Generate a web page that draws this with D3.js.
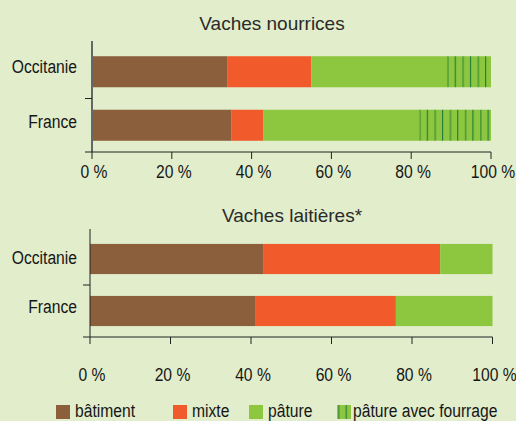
<!DOCTYPE html>
<html>
<head>
<meta charset="utf-8">
<script src="https://cdn.jsdelivr.net/npm/d3@7"></script>
<style>
  body { margin: 0; background: #e1edcb; }
  svg { display: block; font-family: "Liberation Sans", Arial, sans-serif; }
</style>
</head>
<body>
<div class="canva"></div>
<script>
// data
const regions = ["Occitanie", "France"];
const types = ["bâtiment", "mixte", "pâture", "pâture avec fourrage"];
const nourrices = [[34, 21, 34, 11], [35, 8, 39, 18]];
const laitieres = [[43, 44, 13, 0], [41, 35, 24, 0]];
const ticks = [0, 20, 40, 60, 80, 100];
const titles = ["Vaches nourrices", "Vaches laitières*"];

const colors = ["#8b5e3c", "#f15a2b", "#8dc63f", "#8dc63f"];
const squish = 0.87;

const svg = d3.select(".canva").append("svg")
    .attr("width", 516)
    .attr("height", 421);

const defs = svg.append("defs");

function squishText(g, x, y, txt, anchor, size) {
    return g.append("text")
        .attr("transform", "translate(" + x + "," + y + ") scale(" + squish + ",1)")
        .attr("text-anchor", anchor)
        .attr("font-size", size)
        .attr("fill", "#161616")
        .text(txt);
}

let patId = 0;
function hatch(x0) {
    const id = "hatch" + (patId++);
    const p = defs.append("pattern")
        .attr("id", id)
        .attr("patternUnits", "userSpaceOnUse")
        .attr("x", x0)
        .attr("width", 15.2)
        .attr("height", 10);
    p.append("rect").attr("width", 15.2).attr("height", 10).attr("fill", "#8dc63f");
    p.append("rect").attr("x", 0).attr("width", 1.6).attr("height", 10).attr("fill", "#4f9a3a");
    p.append("rect").attr("x", 7.6).attr("width", 1.1).attr("height", 10).attr("fill", "#1b7a3e");
    return "url(#" + id + ")";
}

function drawChart(cfg) {
    const x = d3.scaleLinear().domain([0, 100]).range([cfg.x0, cfg.x1]);
    const y = d3.scaleBand().domain(regions).range([cfg.yTop, cfg.yBot]);
    const g = svg.append("g");

    // title
    g.append("text")
        .attr("x", cfg.titleX)
        .attr("y", cfg.titleY)
        .attr("text-anchor", "middle")
        .attr("font-size", 19)
        .attr("fill", "#2a2a2a")
        .text(cfg.title);

    // bars
    const bh = y.bandwidth() * 0.58;
    cfg.data.forEach((row, i) => {
        let acc = 0;
        row.forEach((v, j) => {
            if (v <= 0) return;
            const xs = x(acc), xe = x(acc + v);
            g.append("rect")
                .attr("x", xs)
                .attr("y", y(regions[i]) + (y.bandwidth() - bh) / 2)
                .attr("width", xe - xs)
                .attr("height", bh)
                .attr("fill", j === 3 ? hatch(xs) : colors[j]);
            acc += v;
        });
    });

    // y axis
    g.append("line")
        .attr("x1", x(0)).attr("x2", x(0))
        .attr("y1", cfg.yTop - 4).attr("y2", cfg.yBot)
        .attr("stroke", cfg.yAxisColor).attr("stroke-width", cfg.yAxisWidth);
    g.append("line")
        .attr("x1", x(0) - 7).attr("x2", x(0))
        .attr("y1", y("France")).attr("y2", y("France"))
        .attr("stroke", "#222").attr("stroke-width", 1);
    regions.forEach((r, i) => {
        squishText(g, 77, y(r) + y.bandwidth() / 2 + 6 + cfg.labelShift[i], r, "end", 18);
    });

    // x axis
    const xa = g.append("g").attr("transform", "translate(0," + cfg.yBot + ")");
    xa.append("line")
        .attr("x1", x(0) - 7).attr("x2", x(100))
        .attr("stroke", "#222").attr("stroke-width", 1);
    ticks.forEach(t => {
        xa.append("line")
            .attr("x1", x(t)).attr("x2", x(t))
            .attr("y1", 0).attr("y2", 7)
            .attr("stroke", "#222").attr("stroke-width", 1);
        squishText(xa, x(t) + 2, cfg.labelDy, t + " %", "middle", 18);
    });
}

drawChart({
    title: titles[0], data: nourrices,
    x0: 92, x1: 491, yTop: 45, yBot: 152,
    titleX: 272, titleY: 30, labelDy: 26, labelShift: [-5, -3],
    yAxisColor: "#666", yAxisWidth: 2
});

drawChart({
    title: titles[1], data: laitieres,
    x0: 90, x1: 492.5, yTop: 233, yBot: 337,
    titleX: 292, titleY: 222, labelDy: 44, labelShift: [-1, -4],
    yAxisColor: "#222", yAxisWidth: 1
});

// legend
const legendX = [56, 173, 249, 337];
const leg = svg.append("g");
types.forEach((t, i) => {
    leg.append("rect")
        .attr("x", legendX[i])
        .attr("y", 405)
        .attr("width", 14)
        .attr("height", 14)
        .attr("fill", i === 3 ? hatch(legendX[i] + 1) : colors[i]);
    squishText(leg, legendX[i] + (i === 3 ? 16 : 19), 417, t, "start", 18);
});
</script>
</body>
</html>
